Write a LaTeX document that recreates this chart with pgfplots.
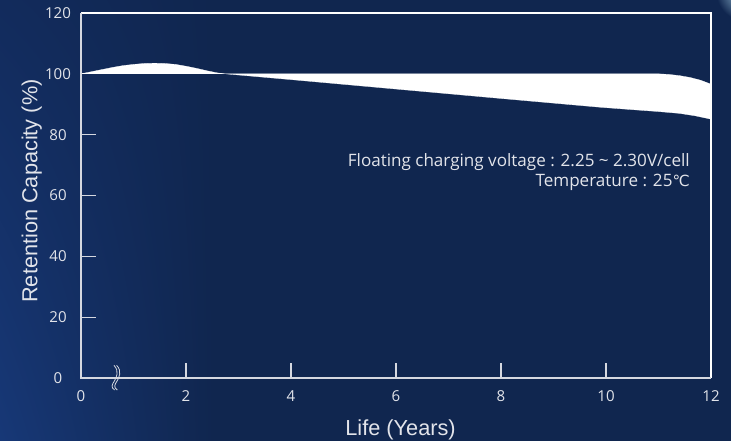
\documentclass[border=0pt]{standalone}
\usepackage{fontspec}
\setmainfont{Open Sans}
\newfontfamily\arialf{Liberation Sans}
\newfontfamily\dejavu{DejaVu Sans}
\usepackage{pgfplots}
\pgfplotsset{compat=1.18}
\usetikzlibrary{shadings}
\definecolor{bgmain}{HTML}{10264F}
\definecolor{bgTL}{HTML}{122B5C}
\definecolor{bgBL}{HTML}{173877}
\definecolor{glare}{HTML}{A8D2E6}
\definecolor{axc}{HTML}{D5D8E0}
\definecolor{labc}{HTML}{E2E4EA}
\begin{document}
\begin{tikzpicture}
\fill[bgmain] (0,0) rectangle (548.25pt,330.75pt);
\shade[lower left=bgBL, upper left=bgTL, lower right=bgmain, upper right=bgmain] (0,0) rectangle (160pt,330.75pt);
\begin{scope}
\clip (0,0) rectangle (548.25pt,330.75pt);
\shade[inner color=glare, outer color=bgmain] (559pt,337pt) circle (22pt);
\end{scope}
\begin{axis}[
  at={(60.75pt,47.25pt)}, anchor=south west,
  scale only axis, width=472.5pt, height=273.75pt,
  xmin=0, xmax=12, ymin=0, ymax=120, clip=false,
  axis line style={draw=none},
  xtick={0,2,...,12}, ytick={0,20,...,120},
  tick align=inside, xtick pos=bottom, ytick pos=left,
  major tick length=11.25pt,
  tick style={color=axc, line width=0.9pt},
  ticklabel style={font=\fontsize{11.3}{12}\selectfont, text=labc},
  /pgf/number format/assume math mode=true,
  xticklabel style={yshift=-6pt},
  yticklabel style={anchor=center, xshift=-17.25pt},
]
% band: upper edge from 0 to 12, then lower edge from 12 back to 0
\addplot[fill=white, draw=white, line width=0.2pt] coordinates {
 (0,100) (0.2,100.7) (0.4,101.4) (0.6,102.1) (0.8,102.7) (1.0,103.1) (1.2,103.4)
 (1.4,103.5) (1.6,103.4) (1.8,103.1) (2.0,102.5) (2.2,101.8) (2.4,101.0) (2.6,100.3)
 (2.75,100) (11.0,100) (11.2,99.8) (11.4,99.4) (11.6,98.8) (11.8,97.9) (12.0,96.6)
 (12,85.1) (11.7,86.2) (11.4,87.0) (11.0,87.6) (10.6,88.1) (9.9,89.0) (8,91.9)
 (6,95.0) (4,98.1) (2.75,100) (0,100)};
\draw[white, line width=0.8pt] (axis cs:0,120) -- (axis cs:12,120) -- (axis cs:12,0);
\draw[axc, line width=1.3pt] (axis cs:0,120) -- (axis cs:0,0) -- (axis cs:12,0);
\draw[axc, line width=0.6pt] (axis cs:0.6273,4.164) .. controls (axis cs:0.7416,2.192) and (axis cs:0.6654,0) .. (axis cs:0.64,-0.877) .. controls (axis cs:0.5892,-2.192) and (axis cs:0.5638,-3.068) .. (axis cs:0.64,-3.945);
\draw[axc, line width=0.6pt] (axis cs:0.6781,4.164) .. controls (axis cs:0.7924,2.192) and (axis cs:0.7162,0) .. (axis cs:0.6908,-0.877) .. controls (axis cs:0.64,-2.192) and (axis cs:0.6146,-3.068) .. (axis cs:0.6908,-3.945);
\end{axis}
\node[rotate=90, anchor=base, text=labc, font=\arialf\fontsize{16.3}{18}\selectfont] at (28pt,187.5pt) {Retention Capacity (\%)};
\node[anchor=base, text=labc, font=\arialf\fontsize{16.3}{18}\selectfont] at (300.4pt,3.75pt) {Life (Years)};
\node[anchor=base east, inner sep=0pt, text=labc, font=\fontsize{12.8}{14}\selectfont] at (517.5pt,205.7pt) {Floating charging voltage : 2.25 \textasciitilde{} 2.30V/cell};
\node[anchor=base east, inner sep=0pt, text=labc, font=\fontsize{12.8}{14}\selectfont] at (517.5pt,190.7pt) {Temperature : 25{\dejavu\fontsize{11.5}{12}\selectfont ℃}};
\end{tikzpicture}
\end{document}
